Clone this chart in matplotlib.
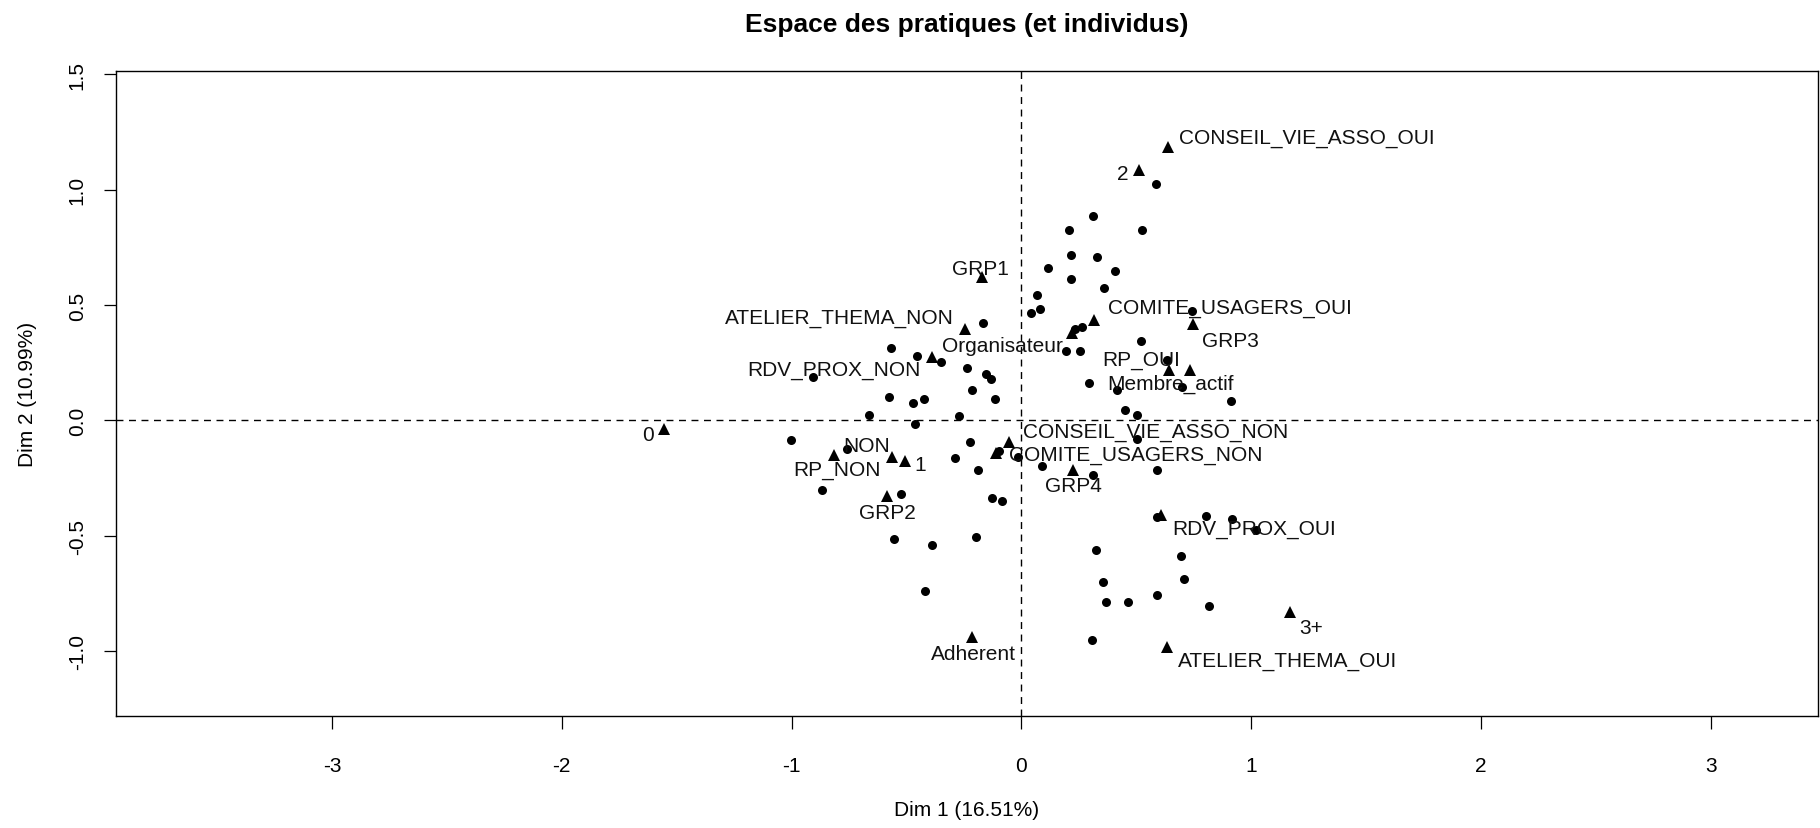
import matplotlib
matplotlib.use("Agg")
import matplotlib.pyplot as plt

plt.rcParams['font.family'] = ['Liberation Sans', 'DejaVu Sans']

# --- DATA ---
TITLE = "Espace des pratiques (et individus)"
XLABEL = "Dim 1 (16.51%)"
YLABEL = "Dim 2 (10.99%)"

# individuals (dots)
ind_x = [0.584, 0.310, 0.206, 0.526, 0.217, 0.329, 0.116, 0.409, 0.217, 0.359,
         0.069, 0.081, 0.043, -0.168, 0.741, 0.262, 0.233, 0.519, 0.194, 0.255,
         -0.567, -0.454, -0.351, -0.908, -0.235, -0.154, -0.134, -0.216, -0.115, -0.575,
         -0.473, -0.424, -0.663, -0.270, 0.635, 0.294, 0.415, 0.700, 0.912, 0.451,
         0.502,
         -1.003, -0.758, -0.463, -0.224, -0.289, -0.188, -0.095, -0.013, 0.091, 0.310,
         0.502, 0.589, -0.866, -0.525, -0.129, -0.086, -0.554, -0.390, -0.199, -0.420,
         0.589, 0.803, 0.919, 1.021, 0.323, 0.693, 0.709, 0.354, 0.367, 0.465,
         0.589, 0.818, 0.306]
ind_y = [1.023, 0.886, 0.827, 0.827, 0.719, 0.707, 0.661, 0.649, 0.613, 0.573,
         0.543, 0.483, 0.464, 0.423, 0.475, 0.407, 0.396, 0.345, 0.299, 0.299,
         0.313, 0.280, 0.255, 0.190, 0.226, 0.203, 0.181, 0.132, 0.091, 0.103,
         0.077, 0.091, 0.022, 0.019, 0.262, 0.161, 0.132, 0.145, 0.084, 0.045,
         0.023,
         -0.083, -0.123, -0.017, -0.093, -0.165, -0.213, -0.134, -0.158, -0.199, -0.239,
         -0.080, -0.213, -0.304, -0.319, -0.336, -0.348, -0.515, -0.542, -0.507, -0.739,
         -0.419, -0.413, -0.428, -0.474, -0.561, -0.590, -0.687, -0.699, -0.786, -0.786,
         -0.759, -0.807, -0.952]

# categories (triangles)
cat_names = ["CONSEIL_VIE_ASSO_OUI", "2", "GRP1", "ATELIER_THEMA_NON", "COMITE_USAGERS_OUI",
             "GRP3", "Organisateur", "RDV_PROX_NON", "RP_OUI", "Membre_actif",
             "0", "NON", "RP_NON", "1", "CONSEIL_VIE_ASSO_NON",
             "COMITE_USAGERS_NON", "GRP2", "GRP4", "RDV_PROX_OUI", "Adherent",
             "ATELIER_THEMA_OUI", "3+"]
cat_x = [0.637, 0.513, -0.170, -0.245, 0.316,
         0.745, 0.219, -0.388, 0.643, 0.733,
         -1.556, -0.564, -0.815, -0.507, -0.053,
         -0.108, -0.583, 0.226, 0.610, -0.214,
         0.632, 1.168]
cat_y = [1.186, 1.088, 0.620, 0.396, 0.436,
         0.417, 0.377, 0.277, 0.219, 0.219,
         -0.036, -0.158, -0.148, -0.177, -0.094,
         -0.143, -0.326, -0.213, -0.409, -0.938,
         -0.984, -0.829]

xticks = [-3, -2, -1, 0, 1, 2, 3]
yticks = [-1.0, -0.5, 0.0, 0.5, 1.0, 1.5]

# label placement (offset of label centre from its triangle, in points)
label_offsets = [(99.9, 7.1), (-11.6, -3.0), (-1.2, 6.6), (-90.8, 8.4), (98.2, 8.9),
                 (27.1, -11.9), (-50.1, -8.9), (-70.5, -9.6), (-19.8, 7.6), (-14.2, -9.6),
                 (-11.2, -4.1), (-18.4, 8.1), (2.3, -10.8), (10.9, -2.3), (105.7, 7.9),
                 (100.4, -0.8), (0.3, -12.4), (0.0, -11.6), (66.5, -9.6), (0.8, -11.9),
                 (87.0, -9.8), (15.1, -11.3)]

FS = 15

fig = plt.figure(figsize=(18.2, 8.29), dpi=100)
ax = fig.add_axes([0.0637, 0.1351, 0.9352, 0.778])

ax.axhline(0, color="black", lw=1, ls=(0, (5, 4)), zorder=1)
ax.axvline(0, color="black", lw=1, ls=(0, (5, 4)), zorder=1)

ax.plot(ind_x, ind_y, "o", color="black", ms=6.5, mew=0, zorder=3)
ax.plot(cat_x, cat_y, "^", color="black", ms=8, mew=0, zorder=3)

for name, x, y, off in zip(cat_names, cat_x, cat_y, label_offsets):
    ax.annotate(name, (x, y), xytext=off, textcoords="offset points",
                ha="center", va="center", fontsize=FS, color="#111111", zorder=4)

ax.set_xlim(-3.94, 3.467)
ax.set_ylim(-1.282, 1.515)
ax.set_xticks(xticks)
ax.set_xticklabels([str(t) for t in xticks])
ax.set_yticks(yticks)
ax.set_yticklabels([f"{t:.1f}" for t in yticks], rotation=90, va="center")
ax.tick_params(length=9, width=0.9, labelsize=FS)
ax.tick_params(axis="x", pad=20)
ax.tick_params(axis="y", pad=12)
for s in ax.spines.values():
    s.set_linewidth(1.0)

ax.set_title(TITLE, fontsize=19, fontweight="bold", pad=29)
ax.set_xlabel(XLABEL, fontsize=FS, labelpad=18)
ax.set_ylabel(YLABEL, fontsize=FS, labelpad=22)

fig.savefig("out.png", dpi=100)
